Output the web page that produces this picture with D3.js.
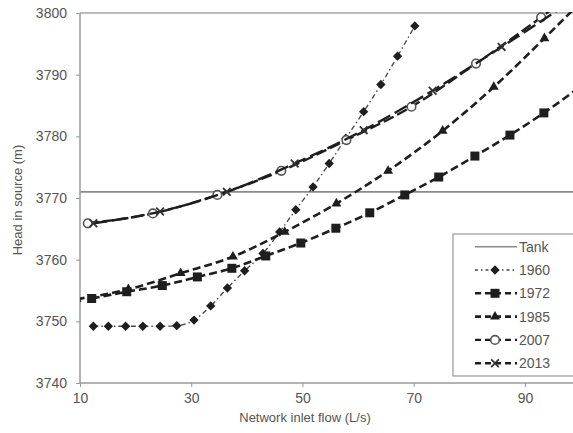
<!DOCTYPE html>
<html><head><meta charset="utf-8">
<script src="https://cdn.jsdelivr.net/npm/d3@7/dist/d3.min.js"></script>
<style>body{margin:0;background:#fff;} text{font-family:Arial,"Liberation Sans",sans-serif;}</style>
</head><body><svg id="c" width="573" height="433"></svg>
<script>
const xTicks = [10, 30, 50, 70, 90];
const yTicks = [3740, 3750, 3760, 3770, 3780, 3790, 3800];
const tankHead = 3771;
const seriesNames = ["1960", "1972", "1985", "2007", "2013"];
const flow1960 = [12.4, 15.1, 18.2, 21.3, 24.4, 27.4, 30.5, 33.5, 36.5, 39.6, 42.9, 45.9, 48.8, 51.9, 54.8, 57.8, 61.0, 64.1, 67.1, 70.2];
const head1960 = [3749.2, 3749.2, 3749.2, 3749.2, 3749.2, 3749.3, 3750.2, 3752.5, 3755.4, 3758.2, 3761.0, 3764.5, 3768.1, 3771.8, 3775.6, 3779.7, 3784.0, 3788.4, 3793.0, 3797.9];
const flow1972 = [12.1, 18.4, 24.8, 31.1, 37.3, 43.4, 49.7, 56.0, 62.1, 68.4, 74.5, 81.0, 87.3, 93.4, 99.6];
const head1972 = [3753.7, 3754.8, 3755.8, 3757.2, 3758.6, 3760.6, 3762.7, 3765.1, 3767.6, 3770.5, 3773.4, 3776.8, 3780.2, 3783.8, 3787.8];
const flow1985 = [9.4, 18.7, 28.1, 37.5, 46.8, 56.1, 65.4, 75.2, 84.4, 93.5, 102.7];
const head1985 = [3753.6, 3755.2, 3757.8, 3760.5, 3764.5, 3769.1, 3774.4, 3780.9, 3788.0, 3795.9, 3804.2];
const flow2007 = [11.4, 23.1, 34.7, 46.2, 57.9, 69.6, 81.2, 92.9, 104.5];
const head2007 = [3765.9, 3767.5, 3770.5, 3774.4, 3779.4, 3784.8, 3791.8, 3799.3, 3807.5];
const flow2013 = [12.4, 24.4, 36.4, 48.6, 61.0, 73.4, 85.8, 98.2];
const head2013 = [3765.9, 3767.8, 3771.0, 3775.6, 3781.0, 3787.4, 3794.5, 3801.8];

const svg = d3.select("#c");
const x = d3.scaleLinear().domain([10, 99]).range([80, 575]);
const y = d3.scaleLinear().domain([3740, 3800]).range([383, 13]);
const ink = "#1e1e1e", grey = "#9a9a9a", txt = "#555";

svg.append("defs").append("clipPath").attr("id", "clip")
  .append("rect").attr("x", 80).attr("y", 12).attr("width", 500).attr("height", 372);

svg.append("line").attr("x1", x(10)).attr("x2", 573).attr("y1", y(3800)).attr("y2", y(3800))
  .attr("stroke", "#bdbdbd").attr("stroke-width", 2.2);
svg.append("line").attr("x1", x(10)).attr("x2", 573).attr("y1", y(tankHead)).attr("y2", y(tankHead))
  .attr("stroke", "#8a8a8a").attr("stroke-width", 1.6);

const xAxis = svg.append("g").attr("transform", "translate(0,383)")
  .call(d3.axisBottom(x).tickValues(xTicks).tickFormat(d3.format("d")).tickSize(4).tickPadding(6));
const yAxis = svg.append("g").attr("transform", "translate(80,0)")
  .call(d3.axisLeft(y).tickValues(yTicks).tickFormat(d3.format("d")).tickSize(4).tickPadding(9));
[xAxis, yAxis].forEach(g => {
  g.select(".domain").attr("stroke", grey).attr("stroke-width", 1.5);
  g.selectAll(".tick line").attr("stroke", grey);
  g.selectAll(".tick text").attr("fill", txt).attr("font-size", 14);
});
yAxis.select(".domain").attr("d", "M0,383V13");
svg.append("line").attr("x1", 80).attr("x2", 573).attr("y1", 383).attr("y2", 383)
  .attr("stroke", grey).attr("stroke-width", 1.5);
xAxis.select(".domain").remove();

svg.append("text").attr("x", 305).attr("y", 422).attr("text-anchor", "middle")
  .attr("fill", txt).attr("font-size", 13).text("Network inlet flow (L/s)");
svg.append("text").attr("transform", "translate(22,200) rotate(-90)").attr("text-anchor", "middle")
  .attr("fill", txt).attr("font-size", 13).text("Head in source (m)");

const styles = {
  "1960": {xs: flow1960, ys: head1960, dash: "5,3,1.5,3", w: 1.3, stroke: "#444", marker: "diamond"},
  "1972": {xs: flow1972, ys: head1972, dash: "8,4", w: 2.6, stroke: ink, marker: "square"},
  "1985": {xs: flow1985, ys: head1985, dash: "8,4", w: 2.6, stroke: ink, marker: "triangle"},
  "2007": {xs: flow2007, ys: head2007, dash: "11,4", w: 2.4, stroke: ink, marker: "circle"},
  "2013": {xs: flow2013, ys: head2013, dash: "14,5", w: 2.4, stroke: ink, marker: "cross"}
};
function drawMarker(g, type, cx, cy) {
  if (type === "diamond") g.append("rect").attr("x", -3.3).attr("y", -3.3).attr("width", 6.6).attr("height", 6.6).attr("transform", `translate(${cx},${cy}) rotate(45)`).attr("fill", ink);
  else if (type === "square") g.append("rect").attr("x", cx - 4.5).attr("y", cy - 4.5).attr("width", 9).attr("height", 9).attr("fill", ink);
  else if (type === "triangle") g.append("path").attr("d", d3.symbol(d3.symbolTriangle, 42)()).attr("transform", `translate(${cx},${cy})`).attr("fill", ink);
  else if (type === "circle") g.append("circle").attr("cx", cx).attr("cy", cy).attr("r", 4.3).attr("fill", "#fff").attr("stroke", "#555").attr("stroke-width", 1.6);
  else if (type === "cross") g.append("path").attr("d", d3.symbol(d3.symbolX, 40)()).attr("transform", `translate(${cx},${cy})`).attr("fill", "none").attr("stroke", "#333").attr("stroke-width", 1.8);
}
const plot = svg.append("g").attr("clip-path", "url(#clip)");
const line = d3.line().curve(d3.curveMonotoneX);
seriesNames.forEach(name => {
  const s = styles[name];
  const pts = s.xs.map((v, i) => [x(v), y(s.ys[i])]);
  plot.append("path").attr("d", line(pts)).attr("fill", "none").attr("stroke", s.stroke)
    .attr("stroke-width", s.w).attr("stroke-dasharray", s.dash);
  const mg = plot.append("g");
  pts.forEach(p => drawMarker(mg, s.marker, p[0], p[1]));
});

const lg = svg.append("g");
lg.append("rect").attr("x", 453).attr("y", 234).attr("width", 130).attr("height", 142)
  .attr("fill", "#fff").attr("stroke", "#a0a0a0").attr("stroke-width", 1.3);
const legendNames = ["Tank"].concat(seriesNames);
legendNames.forEach((name, i) => {
  const ly = 246.7 + i * 23.3;
  if (name === "Tank") {
    lg.append("line").attr("x1", 475).attr("x2", 517).attr("y1", ly).attr("y2", ly).attr("stroke", "#8a8a8a").attr("stroke-width", 1.4);
  } else {
    const s = styles[name];
    lg.append("line").attr("x1", 475).attr("x2", 517).attr("y1", ly).attr("y2", ly).attr("stroke", s.stroke)
      .attr("stroke-width", s.w).attr("stroke-dasharray", name === "1960" ? "3,3,1.5,3" : "6,4");
    drawMarker(lg, s.marker, 495, ly);
  }
  lg.append("text").attr("x", 519).attr("y", ly + 5).attr("fill", txt).attr("font-size", 14).text(name);
});
</script></body></html>
